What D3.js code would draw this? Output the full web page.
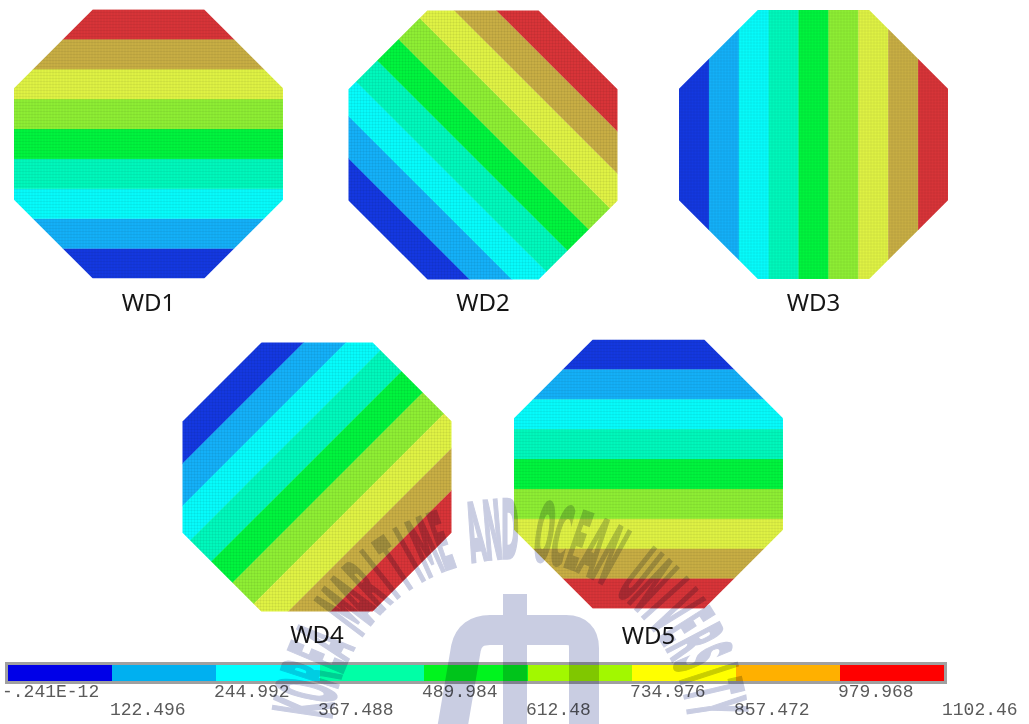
<!DOCTYPE html>
<html>
<head>
<meta charset="utf-8">
<script src="https://cdn.jsdelivr.net/npm/d3@7/dist/d3.min.js"></script>
<style>
  html, body { margin: 0; padding: 0; background: #fff; }
  svg { display: block; }
</style>
</head>
<body>
<svg id="chart" width="1029" height="724"></svg>
<script>
// Load cases (wind directions) and the direction in which the result grows
const cases = ["WD1", "WD2", "WD3", "WD4", "WD5"];
const gradientAngles = [90, 45, 0, -45, -90];   // degrees, counter-clockwise from +x

// Contour levels of the result (legend boundaries)
const levels = [-0.241e-12, 122.496, 244.992, 367.488, 489.984, 612.48, 734.976, 857.472, 979.968, 1102.46];
const tickLabels = ["-.241E-12", "122.496", "244.992", "367.488", "489.984",
                    "612.48", "734.976", "857.472", "979.968", "1102.46"];

// Colour scheme: legend swatches and the (mesh-shaded) plot fills
const legendColors = ["#0000e8", "#00b0f0", "#00ffff", "#00ffa6", "#00f41e",
                      "#a2f800", "#ffff00", "#ffb000", "#ff0000"];
const plotColors   = ["#1438e0", "#14b0f8", "#06fbfb", "#00f8bc", "#00f43e",
                      "#8eee34", "#dff244", "#c8ae44", "#d83438"];

const svg = d3.select("#chart");

// ---------- contour plots ----------
const R = 134.5;                                 // half-width of each octagon
const half = R * Math.tan(Math.PI / 8);          // half of a side length
const octagon = [
  [-half, -R], [half, -R], [R, -half], [R, half],
  [half, R], [-half, R], [-R, half], [-R, -half]
];
const centers = [[148.5, 144], [483, 145], [813.5, 144.5], [317, 477], [648.5, 474]];
const labelY = [311, 311, 311, 643, 644];

// value -> position along the gradient axis
const along = d3.scaleLinear().domain([levels[0], levels[levels.length - 1]]).range([-R, R]);
const bands = d3.range(levels.length - 1).map(i => ({ lo: levels[i], hi: levels[i + 1], i }));
const fillOf = d3.scaleOrdinal().domain(d3.range(9)).range(plotColors);

const defs = svg.append("defs");
defs.append("clipPath").attr("id", "oct")
  .append("path").attr("d", "M" + octagon.map(p => p.join(",")).join("L") + "Z");

// fine element mesh seen over the fills
const pat = defs.append("pattern").attr("id", "mesh")
  .attr("width", 3).attr("height", 3).attr("patternUnits", "userSpaceOnUse");
pat.append("rect").attr("width", 3).attr("height", 1).attr("fill", "#000").attr("opacity", 0.05);
pat.append("rect").attr("width", 1).attr("height", 3).attr("fill", "#000").attr("opacity", 0.05);

const plots = svg.selectAll("g.case").data(cases).join("g")
  .attr("class", "case")
  .attr("transform", (d, i) => `translate(${centers[i][0]},${centers[i][1]})`);

const clipped = plots.append("g").attr("clip-path", "url(#oct)");
clipped.append("g")
  .attr("transform", (d, i) => `rotate(${-gradientAngles[i]})`)
  .selectAll("rect").data(bands).join("rect")
  .attr("x", b => along(b.lo))
  .attr("width", b => along(b.hi) - along(b.lo) + 0.3)
  .attr("y", -R * 1.5)
  .attr("height", R * 3)
  .attr("fill", b => fillOf(b.i));
clipped.append("rect")
  .attr("x", -R).attr("y", -R).attr("width", 2 * R).attr("height", 2 * R)
  .attr("fill", "url(#mesh)");

plots.append("text")
  .attr("x", 0)
  .attr("y", (d, i) => labelY[i] - centers[i][1])
  .attr("text-anchor", "middle")
  .attr("font-family", "'Noto Sans', 'Open Sans', sans-serif")
  .attr("font-size", 24)
  .attr("fill", "#151515")
  .text(d => d);

// ---------- legend bar ----------
const bar = { x0: 8, x1: 944, y: 665, h: 16 };
const legendX = d3.scaleLinear().domain([0, levels.length - 1]).range([bar.x0, bar.x1]);
const legend = svg.append("g").attr("class", "legend");
legend.append("rect")
  .attr("x", bar.x0 - 1.5).attr("y", bar.y - 1.5)
  .attr("width", bar.x1 - bar.x0 + 3).attr("height", bar.h + 3)
  .attr("fill", "none").attr("stroke", "#a0a0a0").attr("stroke-width", 3);
legend.selectAll("rect.sw").data(bands).join("rect")
  .attr("class", "sw")
  .attr("x", b => legendX(b.i))
  .attr("width", b => legendX(b.i + 1) - legendX(b.i))
  .attr("y", bar.y).attr("height", bar.h)
  .attr("fill", b => legendColors[b.i]);
legend.selectAll("text").data(tickLabels).join("text")
  .attr("x", (d, i) => legendX(i) + (i === 0 ? -6 : -2))
  .attr("y", (d, i) => i % 2 === 0 ? 697 : 715)
  .attr("font-family", "'Liberation Mono', 'Courier New', monospace")
  .attr("font-size", 18)
  .attr("fill", "#5a5a5a")
  .text(d => d);

// ---------- university watermark ----------
const wmFill = "#bcc1db";
const mark = svg.append("g")
  .attr("fill", wmFill)
  .attr("opacity", 0.8)
  .style("mix-blend-mode", "multiply");
const wmText = "KOREA MARITIME AND OCEAN UNIVERSITY";
const wmCenter = [510, 738], wmR = 180, step = 4.8, mid = 17;
mark.selectAll("text").data(wmText.split("")).join("text")
  .attr("transform", (c, i) => {
    const a = (i - mid) * step;
    const rad = a * Math.PI / 180;
    const x = wmCenter[0] + wmR * Math.sin(rad);
    const y = wmCenter[1] - wmR * Math.cos(rad);
    return `translate(${x},${y}) rotate(${a}) scale(0.27,1)`;
  })
  .attr("text-anchor", "middle")
  .attr("font-family", "'DejaVu Sans', sans-serif")
  .attr("font-weight", "bold")
  .attr("font-size", 80)
  .attr("stroke", wmFill)
  .attr("stroke-width", 2.5)
  .attr("vector-effect", "non-scaling-stroke")
  .text(c => c);
mark.append("rect").attr("x", 503).attr("y", 594).attr("width", 24).attr("height", 140);
mark.append("path")
  .attr("d", "M452,730 L466,648 Q470,630 490,630 L566,630 Q584,630 584,648 L584,730")
  .attr("fill", "none").attr("stroke", wmFill).attr("stroke-width", 30);
</script>
</body>
</html>
